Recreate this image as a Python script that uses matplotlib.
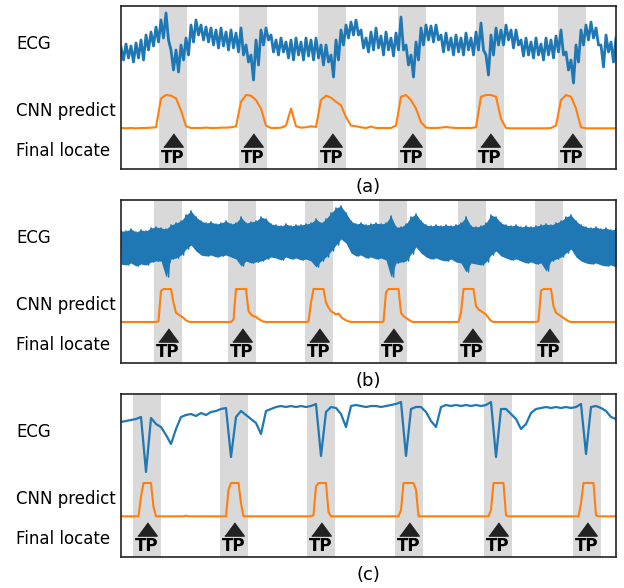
import matplotlib

matplotlib.use("Agg")
import matplotlib.pyplot as plt
import numpy as np

# ---- data ----------------------------------------------------------------- #
WIDTH = 495  # samples across each panel

# R-peak locations (sample index) -> gray bands, triangles, TP labels
peaks_a = [52, 132, 211, 291, 369, 451]
peaks_b = [46.5, 121, 198, 272, 351, 428]
peaks_c = [26, 113, 200, 288, 377, 466]

# panel (a) ECG is noisy: upper / lower extent of the trace
ecg_a_hi = [3, 6, 4, 7, 10, 15, 18, 23, 30, 37, 0, 0, 5, 12, 25, 30, 25, 23, 22, 20,
            22, 18, 20, 17, 22, 5, -5, 10, 20, 22, 15, 10, 12, 8, 10, 12, 8, 12, 10, 12,
            5, 5, -5, 10, 20, 25, 28, 30, 20, 12, 18, 22, 14, 18, 12, 17, 33, 5, -5, 8,
            22, 25, 24, 25, 15, 17, 12, 15, 12, 17, 12, 18, 27, -5, 15, 22, 20, 25, 20, 20,
            10, 12, 8, 12, 6, 12, 10, 14, 20, -2, -10, 5, 20, 25, 28, 22, 5, 15, 8, 12]
ecg_a_lo = [-10, -8, -12, -8, -10, 0, 4, 8, 12, 10, -20, -22, -10, -5, 8, 15, 10, 8, 5, 2,
            4, 0, 2, -2, -5, -12, -30, -15, 5, 10, -2, -5, -2, -8, -10, -5, -10, -6, -10, -8,
            -15, -12, -27, -10, 5, 12, 15, 15, 2, -2, 0, 2, -5, 0, -6, 0, 0, -15, -27, -10,
            5, 10, 8, 10, -2, 0, -5, -2, -5, 0, -5, 0, 0, -25, -5, 5, 5, 10, 2, 5,
            -6, -5, -8, -5, -10, -5, -8, -2, -5, -20, -33, -12, 5, 10, 12, 5, -17, -2, -12, -5]

# panel (b) ECG is a dense band: upper / lower envelopes
ecg_b_hi = [13, 13, 15, 12, 14, 13, 16, 17, 16, 15, 19, 21, 23, 29, 33, 27, 23, 21, 22, 20,
            21, 23, 20, 21, 27, 21, 22, 23, 27, 25, 20, 19, 18, 20, 18, 19, 19, 20, 21, 25,
            21, 25, 31, 36, 38, 31, 23, 20, 21, 19, 20, 21, 20, 21, 28, 17, 17, 20, 27, 30,
            23, 19, 18, 19, 18, 19, 18, 19, 21, 27, 18, 17, 18, 21, 29, 27, 21, 19, 18, 19,
            17, 18, 17, 18, 19, 20, 19, 21, 23, 27, 29, 23, 19, 17, 16, 17, 15, 16, 14, 15]
ecg_b_lo = [-20, -21, -19, -22, -20, -21, -18, -17, -17, -33, -15, -14, -11, -5, -1, -7, -11, -12, -11, -13,
            -12, -11, -13, -15, -22, -17, -19, -18, -17, -15, -13, -14, -16, -13, -15, -14, -16, -15, -17, -23,
            -17, -13, -7, -1, 5, 1, -9, -12, -11, -14, -13, -15, -14, -16, -33, -19, -18, -17, -10, -3,
            -9, -13, -15, -14, -16, -17, -15, -18, -19, -28, -19, -20, -21, -18, -11, -7, -12, -14, -16, -15,
            -17, -19, -18, -20, -19, -27, -17, -15, -13, -9, -5, -13, -17, -19, -20, -19, -21, -22, -21, -23]

ecg_c = [16, 17, 18, 19, 21, -34, 20, 14, 11, 3, -6, 9, 21, 23, 24, 22, 25, 23, 26, 27,
         29, 30, -19, 21, 27, 23, 19, 15, 4, 27, 29, 31, 32, 31, 32, 31, 32, 31, 32, 34,
         -18, 26, 31, 30, 24, 11, 32, 33, 32, 31, 32, 32, 31, 32, 33, 34, 36, -18, 29, 31,
         31, 26, 17, 11, 31, 33, 32, 33, 32, 33, 32, 33, 32, 33, 36, -19, 29, 29, 24, 19,
         9, 14, 25, 29, 30, 31, 30, 31, 30, 31, 30, 31, 34, -16, 31, 32, 30, 27, 21, 19]

# CNN output (0..1)
cnn_a = [0.03, 0.02, 0.03, 0.02, 0.03, 0.03, 0.04, 0.05, 0.90, 1.00, 0.98, 0.90, 0.55, 0.08, 0.03, 0.03, 0.03, 0.04, 0.03, 0.03,
         0.04, 0.04, 0.05, 0.08, 0.80, 1.00, 0.98, 0.85, 0.60, 0.10, 0.03, 0.03, 0.04, 0.10, 0.60, 0.08, 0.04, 0.05, 0.08, 0.06,
         0.85, 0.98, 0.92, 0.80, 0.70, 0.35, 0.10, 0.08, 0.05, 0.03, 0.07, 0.03, 0.03, 0.03, 0.03, 0.10, 0.95, 1.00, 0.85, 0.60,
         0.20, 0.04, 0.03, 0.03, 0.04, 0.06, 0.04, 0.03, 0.03, 0.03, 0.03, 0.05, 0.95, 1.00, 1.00, 0.95, 0.30, 0.03, 0.02, 0.02,
         0.02, 0.02, 0.02, 0.02, 0.02, 0.02, 0.03, 0.10, 0.85, 1.00, 0.95, 0.60, 0.05, 0.02, 0.02, 0.02, 0.02, 0.02, 0.02, 0.02]

cnn_b = [0.03, 0.03, 0.03, 0.03, 0.03, 0.03, 0.03, 0.03, 0.03, 0.03,
         0.03, 0.03, 0.03, 0.03, 0.03, 0.05, 0.95, 1.00, 1.00, 1.00,
         1.00, 0.60, 0.30, 0.25, 0.20, 0.15, 0.08, 0.04, 0.03, 0.03,
         0.03, 0.03, 0.03, 0.03, 0.03, 0.03, 0.03, 0.03, 0.03, 0.03,
         0.03, 0.03, 0.03, 0.03, 0.03, 0.10, 1.00, 1.00, 1.00, 1.00,
         1.00, 0.35, 0.25, 0.20, 0.18, 0.12, 0.08, 0.04, 0.03, 0.03,
         0.03, 0.03, 0.03, 0.03, 0.03, 0.03, 0.03, 0.03, 0.03, 0.03,
         0.03, 0.03, 0.03, 0.03, 0.03, 0.04, 0.60, 1.00, 1.00, 1.00,
         1.00, 1.00, 0.60, 0.45, 0.35, 0.30, 0.25, 0.28, 0.18, 0.12,
         0.08, 0.05, 0.03, 0.03, 0.03, 0.03, 0.03, 0.03, 0.03, 0.03,
         0.03, 0.03, 0.03, 0.03, 0.03, 0.04, 0.90, 1.00, 1.00, 1.00,
         1.00, 1.00, 0.30, 0.20, 0.15, 0.10, 0.05, 0.03, 0.03, 0.03,
         0.03, 0.03, 0.03, 0.03, 0.03, 0.03, 0.03, 0.03, 0.03, 0.03,
         0.03, 0.03, 0.03, 0.03, 0.03, 0.03, 0.30, 1.00, 1.00, 1.00,
         1.00, 1.00, 0.50, 0.40, 0.35, 0.30, 0.25, 0.15, 0.06, 0.03,
         0.03, 0.03, 0.03, 0.03, 0.03, 0.03, 0.03, 0.03, 0.03, 0.03,
         0.03, 0.03, 0.03, 0.03, 0.03, 0.03, 0.03, 0.05, 0.95, 1.00,
         1.00, 1.00, 1.00, 0.50, 0.30, 0.25, 0.20, 0.15, 0.10, 0.05,
         0.03, 0.03, 0.03, 0.03, 0.03, 0.03, 0.03, 0.03, 0.03, 0.03,
         0.03, 0.03, 0.03, 0.03, 0.03, 0.03, 0.03, 0.03, 0.03]

cnn_c = [0.02, 0.02, 0.02, 0.02, 0.02, 0.02, 0.02, 0.02, 0.60, 1.00,
         1.00, 1.00, 1.00, 0.30, 0.02, 0.02, 0.02, 0.02, 0.02, 0.02,
         0.02, 0.02, 0.02, 0.02, 0.02, 0.02, 0.04, 0.02, 0.02, 0.02,
         0.02, 0.02, 0.02, 0.02, 0.02, 0.02, 0.02, 0.02, 0.02, 0.02,
         0.02, 0.02, 0.02, 0.80, 1.00, 1.00, 1.00, 1.00, 0.40, 0.02,
         0.02, 0.02, 0.02, 0.02, 0.02, 0.02, 0.02, 0.02, 0.02, 0.02,
         0.02, 0.02, 0.02, 0.02, 0.02, 0.02, 0.02, 0.02, 0.02, 0.02,
         0.02, 0.02, 0.02, 0.02, 0.02, 0.02, 0.02, 0.05, 0.90, 1.00,
         1.00, 1.00, 1.00, 0.15, 0.02, 0.02, 0.02, 0.02, 0.02, 0.02,
         0.02, 0.02, 0.02, 0.02, 0.02, 0.02, 0.02, 0.02, 0.02, 0.02,
         0.02, 0.02, 0.02, 0.02, 0.02, 0.02, 0.02, 0.02, 0.02, 0.02,
         0.02, 0.02, 0.20, 1.00, 1.00, 1.00, 1.00, 1.00, 0.80, 0.02,
         0.02, 0.02, 0.02, 0.02, 0.02, 0.02, 0.02, 0.02, 0.02, 0.02,
         0.02, 0.02, 0.02, 0.02, 0.02, 0.02, 0.02, 0.02, 0.02, 0.02,
         0.02, 0.02, 0.02, 0.02, 0.02, 0.02, 0.02, 0.02, 0.20, 1.00,
         1.00, 1.00, 1.00, 1.00, 0.05, 0.02, 0.02, 0.02, 0.02, 0.02,
         0.02, 0.02, 0.02, 0.02, 0.02, 0.02, 0.02, 0.02, 0.02, 0.02,
         0.02, 0.02, 0.02, 0.02, 0.02, 0.02, 0.02, 0.02, 0.02, 0.02,
         0.02, 0.02, 0.02, 0.02, 0.40, 1.00, 1.00, 1.00, 1.00, 1.00,
         0.05, 0.02, 0.02, 0.02, 0.02, 0.02, 0.02, 0.02, 0.02]

row_labels = ["ECG", "CNN predict", "Final locate"]
captions = ["(a)", "(b)", "(c)"]

# ---- layout (pixels of a 624x588 canvas) ----------------------------------- #
W, H = 624, 588
BOX_LEFT, BOX_W, BOX_H = 121, 495, 163
BOX_TOPS = [6, 200, 394]
ECG_Y, CNN_Y0, CNN_SCALE, TRI_Y, TP_Y = 119, 40, 34, 28.5, 6
BAND_HALF = 14

C_ECG = "#1f77b4"
C_CNN = "#ff7f0e"
C_BAND = "#d9d9d9"
C_TRI = "#222222"

tri = [(-1, -0.68), (1, -0.68), (0, 0.68)]


def draw_panel(ax, peaks, cnn, ecg=None, ecg_hi=None, ecg_lo=None, fill=False, lw=1.2):
    for p in peaks:
        ax.axvspan(p - BAND_HALF, p + BAND_HALF, color=C_BAND, lw=0, zorder=0)
    if ecg is not None:
        x = np.linspace(0, WIDTH, len(ecg))
        ax.plot(x, ECG_Y + np.asarray(ecg), color=C_ECG, lw=1.6, zorder=2)
    else:
        # noisy trace swings between its upper and lower extent
        hi = ECG_Y + np.asarray(ecg_hi)
        lo = ECG_Y + np.asarray(ecg_lo)
        x = np.linspace(0, WIDTH, len(hi))
        step = x[1] - x[0]
        if fill:
            ax.fill_between(x, lo, hi, color=C_ECG, lw=0, zorder=2)
        zig = np.column_stack([hi, lo]).ravel()
        xz = np.column_stack([x, x + step / 2]).ravel()
        ax.plot(xz[:-1], zig[:-1], color=C_ECG, lw=lw, zorder=2)
    xc = np.linspace(0, WIDTH, len(cnn))
    ax.plot(xc, CNN_Y0 + CNN_SCALE * np.asarray(cnn), color=C_CNN, lw=1.5, zorder=2)
    ax.plot(peaks, [TRI_Y] * len(peaks), ls="none", marker=tri, ms=14,
            color=C_TRI, mec=C_TRI, zorder=3)
    for p in peaks:
        ax.text(p, TP_Y, "TP", ha="center", va="baseline", fontsize=12,
                fontweight="bold", color="black", zorder=3)
    ax.set_xlim(0, WIDTH)
    ax.set_ylim(0, BOX_H)
    ax.set_xticks([])
    ax.set_yticks([])
    for s in ax.spines.values():
        s.set_linewidth(1.2)
        s.set_color("#222222")


fig = plt.figure(figsize=(W / 100, H / 100), dpi=100)

panels = [
    dict(peaks=peaks_a, cnn=cnn_a, ecg_hi=ecg_a_hi, ecg_lo=ecg_a_lo, lw=2.0),
    dict(peaks=peaks_b, cnn=cnn_b, ecg_hi=ecg_b_hi, ecg_lo=ecg_b_lo, fill=True),
    dict(peaks=peaks_c, cnn=cnn_c, ecg=ecg_c),
]

for top, cap, kw in zip(BOX_TOPS, captions, panels):
    ax = fig.add_axes([BOX_LEFT / W, 1 - (top + BOX_H) / H, BOX_W / W, BOX_H / H])
    draw_panel(ax, **kw)
    for lab, dy in zip(row_labels, [38, 105, 145]):
        fig.text(16 / W, 1 - (top + dy) / H, lab, ha="left", va="center", fontsize=12)
    fig.text((BOX_LEFT + BOX_W / 2) / W, 1 - (top + BOX_H + 18) / H, cap,
             ha="center", va="center", fontsize=13)

fig.savefig("out.png", dpi=100)
